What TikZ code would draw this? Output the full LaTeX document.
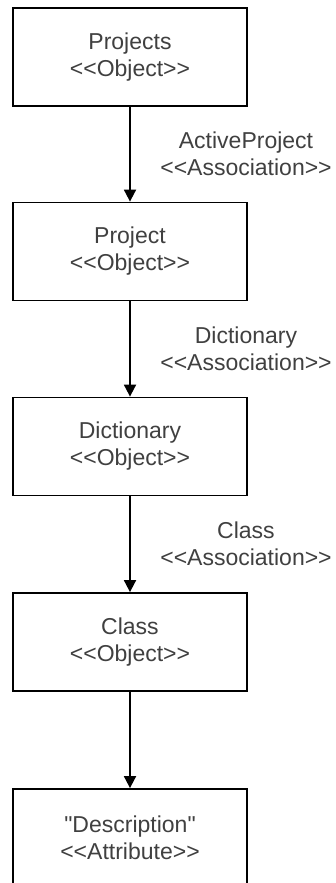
\documentclass[tikz,border=0pt]{standalone}
\usepackage{fontspec}
\setmainfont{Liberation Sans}[Ligatures=TeXOff]
\usetikzlibrary{arrows.meta}
\definecolor{txt}{HTML}{404040}
\tikzset{
  objbox/.style={draw=black, line width=1.8pt, fill=white, minimum width=234pt, minimum height=98pt,
    align=center, text=txt, font=\fontsize{23pt}{27pt}\selectfont, inner sep=0pt},
  conn/.style={line width=1.8pt, -{Triangle[width=12pt,length=12pt]}},
  asslabel/.style={midway, xshift=116pt, align=center, text=txt, font=\fontsize{23pt}{27pt}\selectfont, inner sep=0pt}
}
\begin{document}
\begin{tikzpicture}[x=1pt,y=-1pt]
\useasboundingbox (0,0) rectangle (335,883);
\clip (0,0) rectangle (335,883);
\node[objbox] (projects) at (130,57) {Projects\\<<Object>>};
\node[objbox] (project) at (130,251.5) {Project\\<<Object>>};
\node[objbox] (dict) at (130,446.5) {Dictionary\\<<Object>>};
\node[objbox] (class) at (130,642) {Class\\<<Object>>};
\node[objbox] (desc) at (130,838) {"Description"\\<<Attribute>>};
\draw[conn] (projects) -- node[asslabel] (l1) {ActiveProject\\<<Association>>} (project);
\draw[conn] (project) -- node[asslabel] (l2) {Dictionary\\<<Association>>} (dict);
\draw[conn] (dict) -- node[asslabel] (l3) {Class\\<<Association>>} (class);
\draw[conn] (class) -- (desc);
\end{tikzpicture}
\end{document}
